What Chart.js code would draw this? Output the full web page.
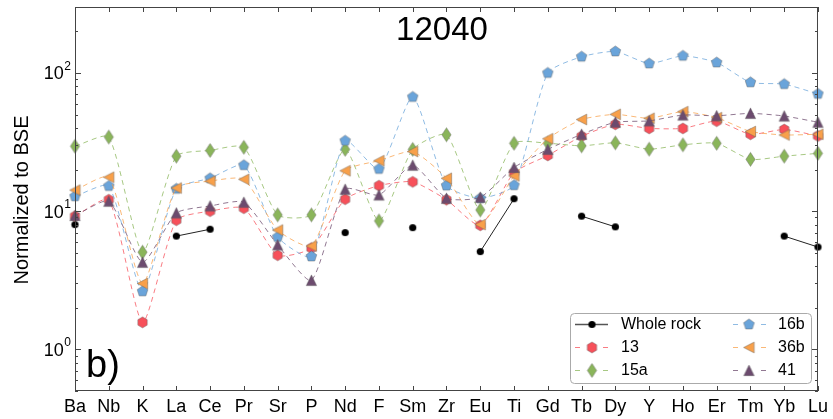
<!DOCTYPE html>
<html>
<head>
<meta charset="utf-8">
<script src="https://cdn.jsdelivr.net/npm/chart.js@4"></script>
<style>
  html, body { margin: 0; padding: 0; background: #fff; }
</style>
</head>
<body>
<canvas id="grafico" width="833" height="419"></canvas>
<script>
// Elementos del diagrama multielemento (normalizado a BSE)
const elementos = ['Ba','Nb','K','La','Ce','Pr','Sr','P','Nd','F','Sm','Zr','Eu','Ti','Gd','Tb','Dy','Y','Ho','Er','Tm','Yb','Lu'];

// Roca total: solo hay datos para algunos elementos
const rocaTotal = [8.0, null, null, 6.6, 7.4, null, null, null, 7.0, null, 7.6, null, 5.1, 12.3, null, 9.2, 7.7, null, null, null, null, 6.6, 5.5];
const m13  = [9.2, 12.1, 1.57, 8.6, 10.0, 10.5, 4.8, 5.4, 12.2, 15.3, 16.3, 12.1, 7.9, 19.0, 25.3, 34.8, 42.5, 39.7, 39.7, 44.8, 36.0, 39.0, 35.0];
const m15a = [29.5, 34.4, 5.05, 25.0, 27.5, 29.0, 9.4, 9.4, 28.0, 8.5, 28.0, 35.7, 10.2, 31.0, 31.0, 29.7, 31.2, 28.1, 30.2, 31.0, 23.7, 25.0, 26.2];
const m16b = [12.8, 15.2, 2.63, 14.5, 17.3, 21.5, 6.5, 4.7, 32.3, 20.2, 67.0, 15.3, 12.4, 15.4, 100, 131, 143, 117, 133, 119, 85.5, 83.0, 70.5];
const m36b = [14.2, 17.6, 3.0, 14.7, 16.5, 17.0, 7.3, 5.6, 19.6, 23.2, 27.0, 17.3, 8.0, 18.0, 33.4, 46.0, 50.2, 47.0, 52.5, 47.5, 37.7, 35.6, 36.0];
const m41  = [9.3, 11.8, 4.27, 9.7, 10.9, 11.6, 5.7, 3.16, 14.4, 13.1, 21.5, 12.4, 12.6, 20.7, 28.0, 36.0, 44.0, 45.0, 49.6, 49.0, 51.0, 48.8, 44.0];

const nombres = ['Whole rock', '13', '15a', '16b', '36b', '41'];
const colores = ['#000000', '#f7505a', '#8ab55a', '#6aa4da', '#f8a04a', '#6c4b6e'];
const formas  = ['circulo', 'hexagono', 'diamante', 'pentagono', 'trianguloIzq', 'trianguloArriba'];

const FUENTE = '"Liberation Sans", Arial, sans-serif';

function poligono(g, n, r, giro) {
    for (let k = 0; k < n; k++) {
        const ang = (giro + k * 360 / n) * Math.PI / 180;
        const px = r * Math.cos(ang), py = r * Math.sin(ang);
        if (k === 0) g.moveTo(px, py); else g.lineTo(px, py);
    }
    g.closePath();
}

// Dibuja cada marcador en un canvas pequeño para usarlo como pointStyle
function marcador(forma, relleno) {
    const c = document.createElement('canvas');
    c.width = 17; c.height = 17;
    const g = c.getContext('2d');
    g.translate(8.5, 8.5);
    g.beginPath();
    if (forma === 'circulo') g.arc(0, 0, 3.6, 0, Math.PI * 2);
    else if (forma === 'hexagono') poligono(g, 6, 5.4, -90);
    else if (forma === 'pentagono') poligono(g, 5, 5.6, -90);
    else if (forma === 'diamante') { g.moveTo(0, -7); g.lineTo(4.6, 0); g.lineTo(0, 7); g.lineTo(-4.6, 0); g.closePath(); }
    else if (forma === 'trianguloIzq') { g.moveTo(-5.4, 0); g.lineTo(5.2, -5.4); g.lineTo(5.2, 5.4); g.closePath(); }
    else if (forma === 'trianguloArriba') { g.moveTo(0, -5.4); g.lineTo(5.2, 5.2); g.lineTo(-5.2, 5.2); g.closePath(); }
    g.fillStyle = relleno;
    g.fill();
    if (forma !== 'circulo') {
        g.lineWidth = 0.6;
        g.strokeStyle = 'rgba(90,90,90,0.7)';
        g.stroke();
    }
    return c;
}

function conAlfa(hex, a) {
    const n = parseInt(hex.slice(1), 16);
    return `rgba(${(n >> 16) & 255},${(n >> 8) & 255},${n & 255},${a})`;
}

const series = [rocaTotal, m13, m15a, m16b, m36b, m41];
const imagenes = formas.map((f, i) => marcador(f, colores[i]));

const datasets = series.map((datos, i) => ({
    label: nombres[i],
    data: datos,
    borderColor: i === 0 ? '#222' : conAlfa(colores[i], 0.75),
    borderWidth: 1,
    borderDash: i === 0 ? [] : [5, 4],
    tension: i === 0 ? 0 : 0.2,
    spanGaps: i !== 0,
    pointStyle: imagenes[i],
    pointRadius: 5,
    order: 6 - i,
    fill: false
}));

// Marco, marcas internas, etiquetas del eje Y, título y leyenda
const decoracion = {
    id: 'decoracion',
    afterDraw(chart) {
        const ctx = chart.ctx;
        const a = chart.chartArea;
        const ys = chart.scales.y, xs = chart.scales.x;
        ctx.save();

        ctx.strokeStyle = '#444';
        ctx.lineWidth = 1;
        ctx.strokeRect(a.left + 0.5, a.top + 0.5, a.right - a.left - 1, a.bottom - a.top - 1);

        // marcas del eje Y (mayores y menores) a ambos lados
        ctx.beginPath();
        for (let d = -1; d <= 2; d++) {
            for (let m = 1; m <= 9; m++) {
                const v = m * Math.pow(10, d);
                if (v < ys.min || v > ys.max) continue;
                const y = Math.round(ys.getPixelForValue(v)) + 0.5;
                const largo = m === 1 ? 6 : 3;
                ctx.moveTo(a.left, y); ctx.lineTo(a.left + largo, y);
                ctx.moveTo(a.right, y); ctx.lineTo(a.right - largo, y);
            }
        }
        // marcas del eje X arriba y abajo
        elementos.forEach((e, i) => {
            const x = Math.round(xs.getPixelForTick(i)) + 0.5;
            ctx.moveTo(x, a.bottom); ctx.lineTo(x, a.bottom - 5);
            ctx.moveTo(x, a.top); ctx.lineTo(x, a.top + 5);
        });
        ctx.stroke();

        // etiquetas 10^n
        ctx.fillStyle = '#000';
        ctx.textBaseline = 'alphabetic';
        [0, 1, 2].forEach(n => {
            const y = ys.getPixelForValue(Math.pow(10, n));
            ctx.font = '12px ' + FUENTE;
            const wExp = ctx.measureText(String(n)).width;
            const xExp = 71 - wExp;
            ctx.textAlign = 'left';
            ctx.fillText(String(n), xExp, y - 3);
            ctx.font = '18px ' + FUENTE;
            ctx.textAlign = 'right';
            ctx.fillText('10', xExp - 0.5, y + 6.5);
        });

        // título del eje Y
        ctx.save();
        ctx.translate(22, 200);
        ctx.rotate(-Math.PI / 2);
        ctx.font = '20px ' + FUENTE;
        ctx.textAlign = 'center';
        ctx.textBaseline = 'middle';
        ctx.fillText('Normalized to BSE', 0, 0);
        ctx.restore();

        // título y rótulo del panel
        ctx.font = '33px ' + FUENTE;
        ctx.textAlign = 'center';
        ctx.textBaseline = 'middle';
        ctx.fillText('12040', 442, 31);
        ctx.font = '38px ' + FUENTE;
        ctx.textAlign = 'left';
        ctx.textBaseline = 'alphabetic';
        ctx.fillText('b)', 86, 377);

        // leyenda en dos columnas
        ctx.beginPath();
        ctx.roundRect(570.5, 313.5, 241, 70, 4);
        ctx.fillStyle = 'rgba(255,255,255,0.85)';
        ctx.fill();
        ctx.strokeStyle = '#aaa';
        ctx.lineWidth = 1;
        ctx.stroke();

        const filas = [324, 347, 370];
        const columnas = [{ x0: 575, xm: 592, xt: 621 }, { x0: 733, xm: 749, xt: 778 }];
        ctx.font = '16px ' + FUENTE;
        ctx.textBaseline = 'middle';
        nombres.forEach((nom, i) => {
            const col = columnas[Math.floor(i / 3)];
            const y = filas[i % 3] + 0.5;
            ctx.beginPath();
            if (i === 0) {
                ctx.strokeStyle = '#555';
                ctx.lineWidth = 1.5;
                ctx.moveTo(col.x0, y); ctx.lineTo(col.x0 + 33, y);
            } else {
                ctx.strokeStyle = conAlfa(colores[i], 0.75);
                ctx.lineWidth = 1;
                ctx.moveTo(col.x0, y); ctx.lineTo(col.x0 + 5, y);
                ctx.moveTo(col.x0 + 28, y); ctx.lineTo(col.x0 + 33, y);
            }
            ctx.stroke();
            const img = imagenes[i];
            ctx.drawImage(img, col.xm - img.width / 2, y - img.height / 2);
            ctx.fillStyle = '#000';
            ctx.fillText(nom, col.xt, y);
        });

        ctx.restore();
    }
};

new Chart(document.getElementById('grafico').getContext('2d'), {
    type: 'line',
    data: { labels: elementos, datasets: datasets },
    options: {
        responsive: false,
        animation: false,
        devicePixelRatio: 1,
        layout: { padding: { top: 7, right: 14, left: 0, bottom: 0 } },
        plugins: { legend: { display: false }, tooltip: { enabled: false } },
        scales: {
            x: {
                type: 'category',
                offset: false,
                grid: { display: false, drawTicks: false },
                border: { display: false },
                ticks: {
                    autoSkip: false,
                    maxRotation: 0,
                    padding: 5,
                    color: '#000',
                    font: { size: 18, family: FUENTE }
                },
                afterFit: (s) => { s.height = 28; }
            },
            y: {
                type: 'logarithmic',
                min: 0.5,
                max: 300,
                grid: { display: false, drawTicks: false },
                border: { display: false },
                ticks: { display: false },
                afterFit: (s) => { s.width = 75; }
            }
        }
    },
    plugins: [decoracion]
});
</script>
</body>
</html>
